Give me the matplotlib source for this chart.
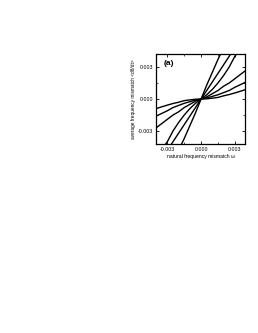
import matplotlib
matplotlib.use("Agg")
import matplotlib.pyplot as plt
from matplotlib.ticker import MultipleLocator

# natural frequency mismatch (x) and the six measured curves (y)
omega = [-0.004, -0.0035, -0.003, -0.0025, -0.002, -0.0015, -0.001, -0.0005, 0.0,
         0.0005, 0.001, 0.0015, 0.002, 0.0025, 0.003, 0.0035, 0.004]

curve1 = [-0.0009, -0.00073, -0.00057, -0.00042, -0.0003, -0.00015, -0.00008, -0.00002, 0.0,
          0.00002, 0.00008, 0.00015, 0.0003, 0.00042, 0.00057, 0.00073, 0.0009]
curve2 = [-0.0016, -0.00135, -0.0011, -0.0008, -0.0006, -0.0004, -0.00025, -0.0001, 0.0,
          0.0001, 0.00025, 0.0004, 0.0006, 0.0008, 0.0011, 0.00135, 0.0016]
curve3 = [-0.0027, -0.0023, -0.0019, -0.0015, -0.0012, -0.0008, -0.0005, -0.0002, 0.0,
          0.0002, 0.0005, 0.0008, 0.0012, 0.0015, 0.0019, 0.0023, 0.0027]
curve4 = [-0.0054, -0.0047, -0.0040, -0.0030, -0.0022, -0.0015, -0.0009, -0.0004, 0.0,
          0.0004, 0.0009, 0.0015, 0.0022, 0.0030, 0.0040, 0.0047, 0.0054]
curve5 = [-0.0064, -0.0056, -0.0048, -0.0040, -0.0032, -0.0024, -0.0016, -0.0008, 0.0,
          0.0008, 0.0016, 0.0024, 0.0032, 0.0040, 0.0048, 0.0056, 0.0064]
curve6 = [-0.0096, -0.0084, -0.0072, -0.0060, -0.0048, -0.0037, -0.0025, -0.0013, 0.0,
          0.0013, 0.0025, 0.0037, 0.0048, 0.0060, 0.0072, 0.0084, 0.0096]

curves = [curve1, curve2, curve3, curve4, curve5, curve6]

plt.rcParams['font.family'] = ['Liberation Sans', 'DejaVu Sans']

fig = plt.figure(figsize=(2.58, 3.33), dpi=100)
ax = fig.add_axes([0.6047, 0.5676, 0.345, 0.270])

for c in curves:
    ax.plot(omega, c, color='black', lw=1.0)

ax.set_xlim(-0.0040, 0.0039)
ax.set_ylim(-0.0042, 0.0042)

ax.xaxis.set_major_locator(MultipleLocator(0.003))
ax.yaxis.set_major_locator(MultipleLocator(0.003))
ax.xaxis.set_minor_locator(MultipleLocator(0.0015))
ax.yaxis.set_minor_locator(MultipleLocator(0.0015))
ax.xaxis.set_major_formatter(lambda v, p: f"{v:.3f}" if abs(v) > 1e-9 else "0.000")
ax.yaxis.set_major_formatter(lambda v, p: f"{v:.3f}" if abs(v) > 1e-9 else "0.000")

ax.tick_params(which='both', direction='in', top=True, right=True, labelsize=3.8, pad=2)
ax.tick_params(which='major', length=2, width=0.6)
ax.tick_params(which='minor', length=1.2, width=0.5)
for s in ax.spines.values():
    s.set_linewidth(0.9)

ax.set_xlabel("natural frequency mismatch \u03c9", fontsize=3.6, labelpad=1.5)
ax.set_ylabel("average frequency mismatch <d\u03b8/dt>", fontsize=3.4, labelpad=1.5)
ax.text(0.09, 0.89, "(a)", transform=ax.transAxes, fontsize=6, fontweight='bold',
        ha='left', va='center')

fig.savefig("out.png", dpi=100)
